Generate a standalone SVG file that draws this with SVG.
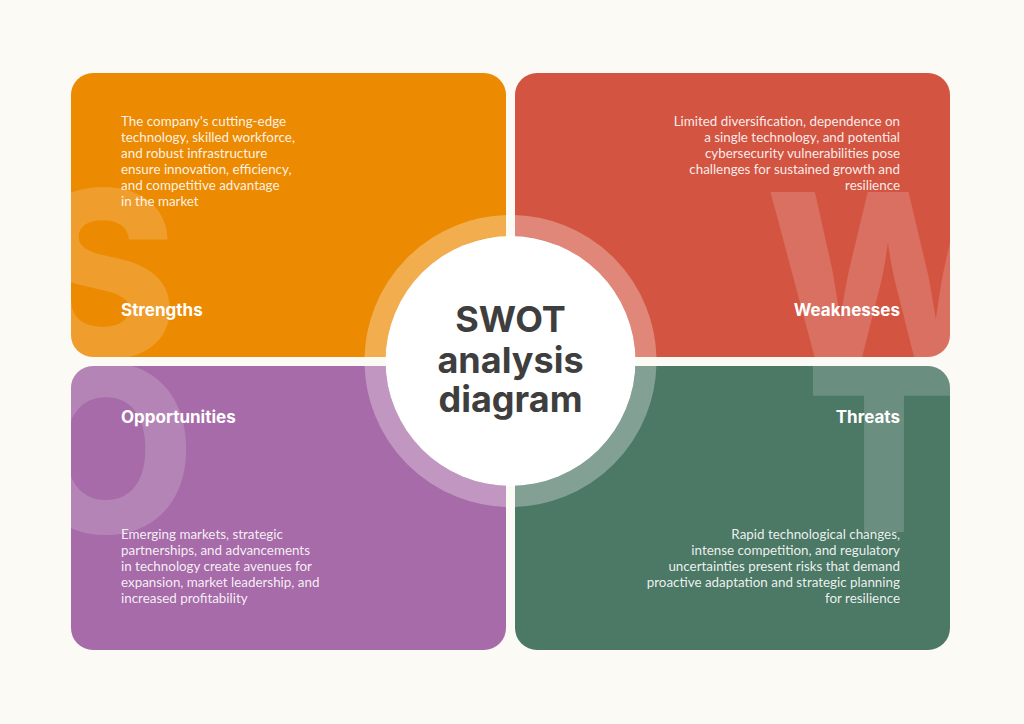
<svg xmlns="http://www.w3.org/2000/svg" width="1024" height="724" viewBox="0 0 1024 724">
  <defs>
    <style>
      .body { font-family: Lato, "Open Sans", "Liberation Sans", sans-serif; font-size: 13.4px; fill: #ffffff; fill-opacity: 0.9; }
      .head { font-family: Inter, "DejaVu Sans", sans-serif; font-size: 17px; font-weight: 700; fill: #ffffff; }
      .big { font-family: Inter, "DejaVu Sans", sans-serif; font-size: 232px; font-weight: 800; fill: #ffffff; fill-opacity: 0.17; }
      .ring { fill: none; stroke: #ffffff; stroke-opacity: 0.3; stroke-width: 21; }
      .title { font-family: Inter, "DejaVu Sans", sans-serif; font-size: 36px; font-weight: 700; fill: #3e3e3e; text-anchor: middle; }
      .end { text-anchor: end; }
    </style>
    <clipPath id="cS"><rect x="71" y="73" width="435" height="284" rx="22"/></clipPath>
    <clipPath id="cW"><rect x="515" y="73" width="435" height="284" rx="22"/></clipPath>
    <clipPath id="cO"><rect x="71" y="366" width="435" height="284" rx="22"/></clipPath>
    <clipPath id="cT"><rect x="515" y="366" width="435" height="284" rx="22"/></clipPath>
  </defs>
  <rect x="0" y="0" width="1024" height="724" fill="#FBFAF5"/>

  <g id="strengths">
    <rect x="71" y="73" width="435" height="284" rx="22" fill="#EC8A02"/>
    <g clip-path="url(#cS)">
      <text class="big" x="178" y="358" text-anchor="end">S</text>
      <circle class="ring" cx="510.5" cy="361" r="135.5"/>
    </g>
    <text class="body" x="121" y="126">The company's cutting-edge</text>
    <text class="body" x="121" y="142">technology, skilled workforce,</text>
    <text class="body" x="121" y="158">and robust infrastructure</text>
    <text class="body" x="121" y="174">ensure innovation, efficiency,</text>
    <text class="body" x="121" y="190">and competitive advantage</text>
    <text class="body" x="121" y="206">in the market</text>
    <text class="head" x="121" y="316">Strengths</text>
  </g>

  <g id="weaknesses">
    <rect x="515" y="73" width="435" height="284" rx="22" fill="#D35441"/>
    <g clip-path="url(#cW)">
      <text class="big" x="888" y="361" text-anchor="middle">W</text>
      <circle class="ring" cx="510.5" cy="361" r="135.5"/>
    </g>
    <text class="body end" x="900" y="126">Limited diversification, dependence on</text>
    <text class="body end" x="900" y="142">a single technology, and potential</text>
    <text class="body end" x="900" y="158">cybersecurity vulnerabilities pose</text>
    <text class="body end" x="900" y="174">challenges for sustained growth and</text>
    <text class="body end" x="900" y="190">resilience</text>
    <text class="head end" x="900" y="316">Weaknesses</text>
  </g>

  <g id="opportunities">
    <rect x="71" y="366" width="435" height="284" rx="22" fill="#A66BA8"/>
    <g clip-path="url(#cO)">
      <text class="big" x="106" y="533" text-anchor="middle">O</text>
      <circle class="ring" cx="510.5" cy="361" r="135.5"/>
    </g>
    <text class="head" x="121" y="423">Opportunities</text>
    <text class="body" x="121" y="539">Emerging markets, strategic</text>
    <text class="body" x="121" y="555">partnerships, and advancements</text>
    <text class="body" x="121" y="571">in technology create avenues for</text>
    <text class="body" x="121" y="587">expansion, market leadership, and</text>
    <text class="body" x="121" y="603">increased profitability</text>
  </g>

  <g id="threats">
    <rect x="515" y="366" width="435" height="284" rx="22" fill="#4C7866"/>
    <g clip-path="url(#cT)">
      <text class="big" x="884" y="532" text-anchor="middle">T</text>
      <circle class="ring" cx="510.5" cy="361" r="135.5"/>
    </g>
    <text class="head end" x="900" y="423">Threats</text>
    <text class="body end" x="900" y="539">Rapid technological changes,</text>
    <text class="body end" x="900" y="555">intense competition, and regulatory</text>
    <text class="body end" x="900" y="571">uncertainties present risks that demand</text>
    <text class="body end" x="900" y="587">proactive adaptation and strategic planning</text>
    <text class="body end" x="900" y="603">for resilience</text>
  </g>

  <g id="center">
    <circle cx="510.5" cy="361" r="125" fill="#ffffff"/>
    <text class="title" x="510.5" y="332">SWOT</text>
    <text class="title" x="510.5" y="373">analysis</text>
    <text class="title" x="510.5" y="412">diagram</text>
  </g>
</svg>
